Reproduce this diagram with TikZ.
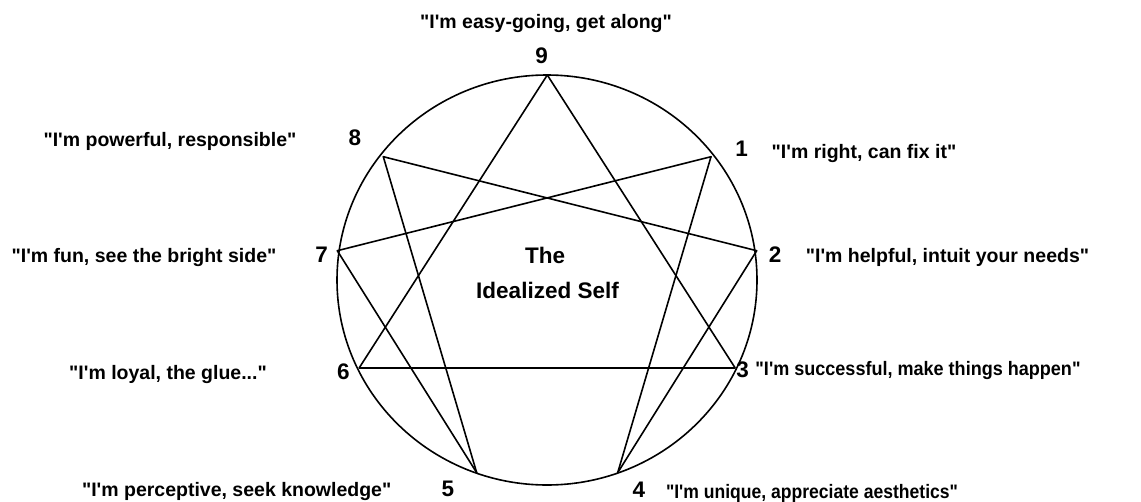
\documentclass[tikz,border=0pt]{standalone}
\usepackage{fontspec}
\setmainfont{Liberation Sans}[Ligatures=TeXOff]

\begin{document}
\begin{tikzpicture}[
  x = 1pt, y = -1pt,
  every node/.style = {inner sep=0pt, anchor=base},
  saying/.style     = {font=\fontsize{19.5}{22}\selectfont\bfseries},
  num/.style        = {font=\fontsize{22.5}{26}\selectfont\bfseries},
  chord/.style      = {draw, line width=1.6pt, line cap=round},
]

\useasboundingbox (0,0) rectangle (1141,501);

% circle
\draw[chord] (547,280) ellipse [x radius=210pt, y radius=205pt];

% points on the circle
\coordinate (p9) at (547.3,  75.0);
\coordinate (p1) at (711.0, 156.7);
\coordinate (p2) at (756.7, 250.7);
\coordinate (p3) at (735.0, 367.7);
\coordinate (p4) at (617.7, 472.7);
\coordinate (p5) at (476.7, 472.7);
\coordinate (p6) at (359.3, 367.7);
\coordinate (p7) at (337.3, 250.7);
\coordinate (p8) at (383.3, 156.7);

% numbers
\node[num] (n9) at (541.7,  63.3) {9};
\node[num] (n1) at (741.7, 156.0) {1};
\node[num] (n2) at (775.0, 262.5) {2};
\node[num] (n3) at (742.7, 377.0) {3};
\node[num] (n4) at (639.0, 497.5) {4};
\node[num] (n5) at (448.0, 496.5) {5};
\node[num] (n6) at (343.3, 379.5) {6};
\node[num] (n7) at (321.7, 262.5) {7};
\node[num] (n8) at (355.0, 145.5) {8};

% sayings
\node[saying] (s9) at (546.0,  28.5) {"I'm easy-going, get along"};
\node[saying] (s1) at (864.0, 158.0) {"I'm right, can fix it"};
\node[saying] (s2) at (947.5, 262.0) {"I'm helpful, intuit your needs"};
\node[saying] (s3) at (918.0, 375.5) {\scalebox{0.925}[1]{"I'm successful, make things happen"}};
\node[saying] (s4) at (812.0, 498.5) {\scalebox{0.9}[1]{"I'm unique, appreciate aesthetics"}};
\node[saying] (s5) at (236.7, 496.5) {"I'm perceptive, seek knowledge"};
\node[saying] (s6) at (168.0, 379.0) {"I'm loyal, the glue..."};
\node[saying] (s7) at (144.0, 262.5) {"I'm fun, see the bright side"};
\node[saying] (s8) at (170.0, 146.0) {"I'm powerful, responsible"};

% centre
\node[num] (the)  at (545.0, 263.0) {The};
\node[num] (self) at (547.5, 298.0) {Idealized Self};

\foreach \a/\b in {p9/p3, p3/p6, p6/p9,
                   p1/p4, p4/p2, p2/p8, p8/p5, p5/p7, p7/p1}
  \draw[chord] (\a) -- (\b);

\end{tikzpicture}
\end{document}
